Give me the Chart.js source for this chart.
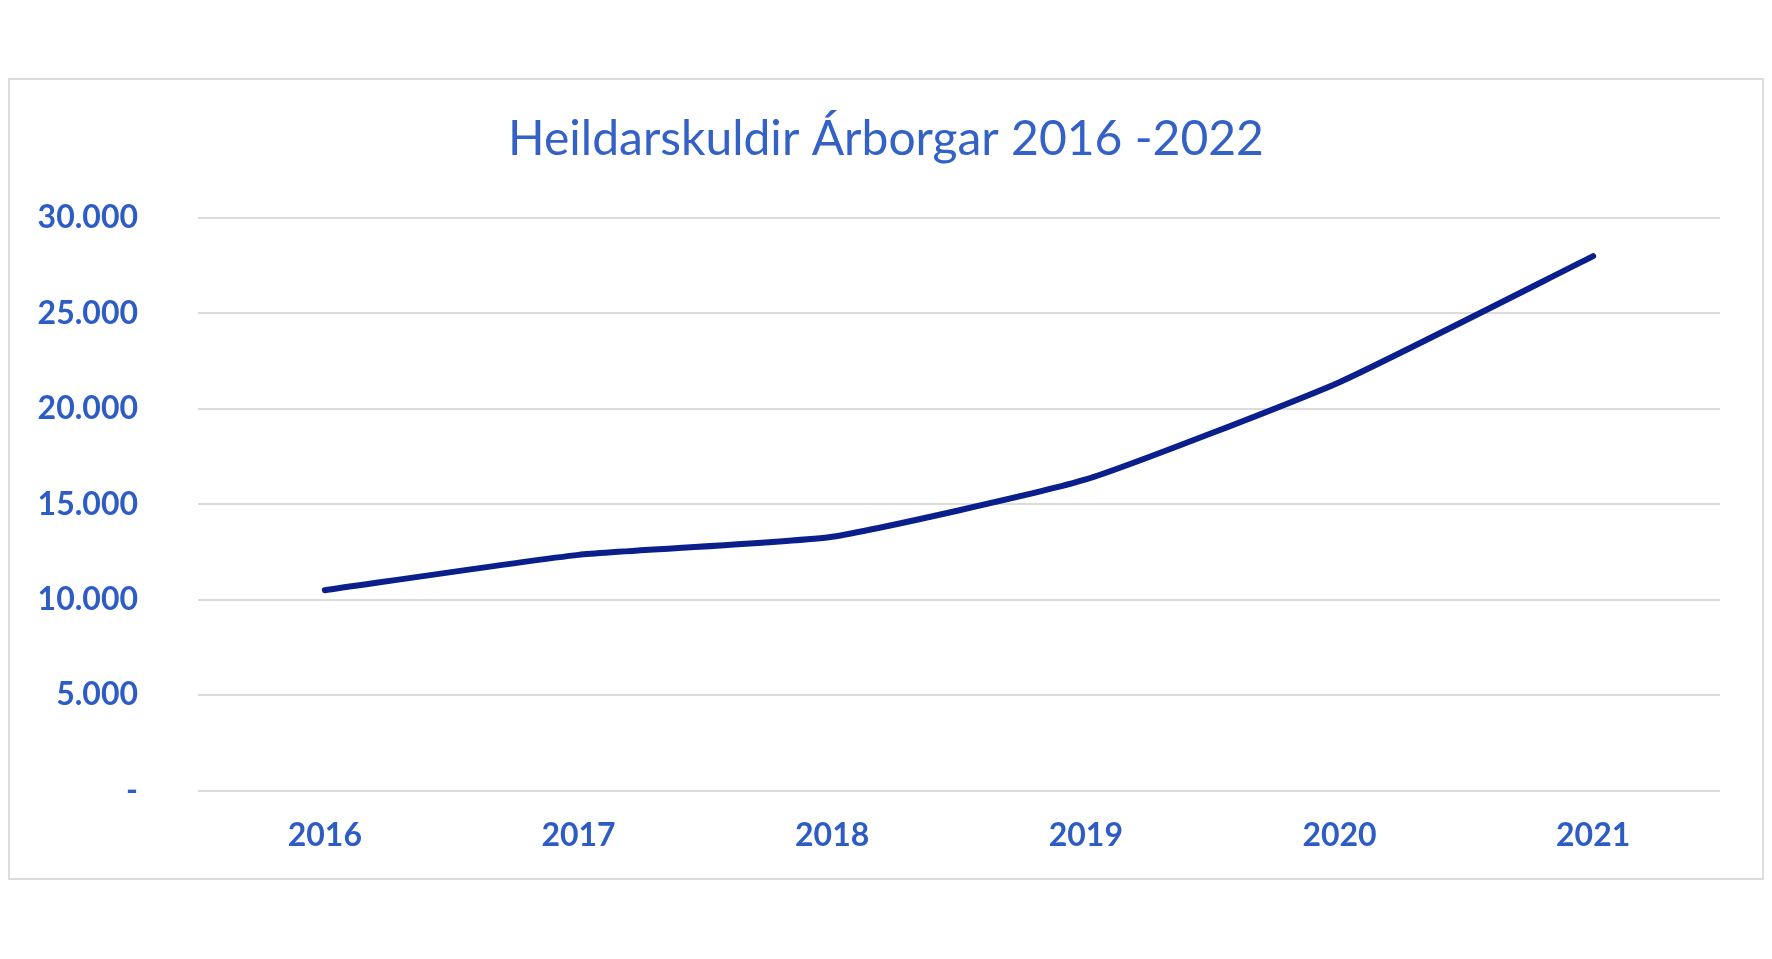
<!DOCTYPE html>
<html>
<head>
<meta charset="utf-8">
<script src="https://cdn.jsdelivr.net/npm/chart.js@4/dist/chart.umd.min.js"></script>
<style>
  html, body { margin: 0; padding: 0; background: #fff; }
  #wrap { position: relative; width: 1772px; height: 959px; }
  #rammi {
    position: absolute; left: 8px; top: 78px; width: 1752px; height: 798px;
    border: 2px solid #dcdcdc; pointer-events: none;
  }
</style>
</head>
<body>
<div id="wrap">
  <canvas id="grafico" width="1772" height="959"></canvas>
  <div id="rammi"></div>
</div>
<script>
// ár og heildarskuldir (m.kr.)
const ar = ["2016", "2017", "2018", "2019", "2020", "2021"];
const skuldir = [10500, 12350, 13300, 16300, 21400, 28000];
const yTikk = [0, 5000, 10000, 15000, 20000, 25000, 30000];

const titill = "Heildarskuldir Árborgar 2016 -2022";
const blar = "#2d5cc4";

function sniðTala(v) {
  if (v === 0) return "-";
  return v.toString().replace(/\B(?=(\d{3})+(?!\d))/g, ".");
}

// titill miðjaður á allan strigann, ekki bara teiknisvæðið
const titilPlugin = {
  id: "titill",
  afterDraw(chart) {
    const c = chart.ctx;
    c.save();
    c.fillStyle = "#3461c6";
    c.font = "48px Lato";
    c.textAlign = "center";
    c.textBaseline = "middle";
    c.fillText(titill, chart.width / 2, 140);
    c.restore();
  }
};

const ctx = document.getElementById("grafico").getContext("2d");
const chart = new Chart(ctx, {
  type: "line",
  data: {
    labels: ar,
    datasets: [{
      label: "Heildarskuldir",
      data: skuldir,
      borderColor: "#0a1f8c",
      borderWidth: 6,
      borderCapStyle: "round",
      borderJoinStyle: "round",
      pointRadius: 0,
      tension: 0.15,
      fill: false
    }]
  },
  options: {
    responsive: false,
    animation: false,
    layout: { padding: { left: 10, right: 52, top: 218, bottom: 78 } },
    plugins: {
      legend: { display: false },
      tooltip: { enabled: false },
      title: { display: false }
    },
    scales: {
      x: {
        offset: true,
        grid: { display: false, drawTicks: false },
        border: { display: false },
        ticks: {
          color: blar,
          padding: 26,
          font: { family: "Lato", size: 32, weight: "bold" }
        }
      },
      y: {
        min: 0,
        max: 30000,
        afterBuildTicks: (scale) => { scale.ticks = yTikk.map(v => ({ value: v })); },
        afterFit: (scale) => { scale.width = 188; },
        grid: { color: "#dcdcdc", lineWidth: 2, drawTicks: false },
        border: { display: false },
        ticks: {
          color: blar,
          padding: 60,
          font: { family: "Lato", size: 32, weight: "bold" },
          callback: (v) => sniðTala(v)
        }
      }
    }
  },
  plugins: [titilPlugin]
});
</script>
</body>
</html>
